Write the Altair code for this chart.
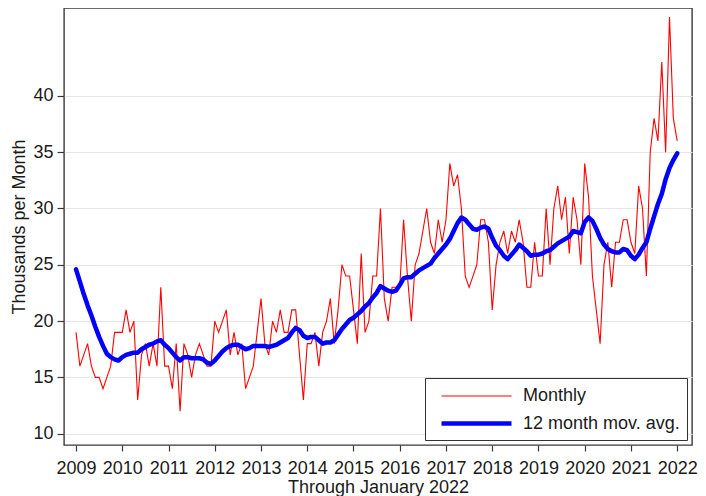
import altair as alt
import pandas as pd

# Monthly values, Jan 2009 .. Jan 2022 (thousands per month)
monthly = [
    19, 16, 17, 18, 16, 15, 15, 14, 15, 16, 19, 19,   # 2009
    19, 21, 19, 20, 13, 17, 18, 16, 18, 16, 23, 16,   # 2010
    16, 14, 18, 12, 18, 17, 15, 17, 18, 17, 16, 16,   # 2011
    20, 19, 20, 21, 17, 19, 17, 18, 14, 15, 16, 19,   # 2012
    22, 18, 17, 20, 19, 21, 19, 19, 21, 21, 17, 13,   # 2013
    18, 18, 19, 16, 19, 20, 22, 18, 21, 25, 24, 24,   # 2014
    21, 18, 26, 19, 20, 24, 24, 30, 22, 20, 23, 23,   # 2015
    23, 29, 24, 20, 25, 26, 28, 30, 27, 26, 29, 27,   # 2016
    29, 34, 32, 33, 30, 24, 23, 24, 25, 29, 29, 27,   # 2017
    21, 25, 27, 28, 26, 28, 27, 29, 27, 23, 23, 27,   # 2018
    24, 24, 30, 25, 30, 32, 29, 31, 26, 31, 29, 25,   # 2019
    34, 31, 24, 21, 18, 25, 27, 23, 27, 27, 29, 29,   # 2020
    27, 26, 32, 30, 24, 35, 38, 36, 43, 35, 47, 38,   # 2021
    36,                                               # Jan 2022
]

# 12 month moving average
moving_avg = [
    24.6, 23.5, 22.4, 21.4, 20.5, 19.5, 18.6, 17.8, 17.1, 16.8, 16.6, 16.5,   # 2009
    16.8, 17.0, 17.1, 17.2, 17.2, 17.5, 17.7, 17.9, 18.0, 18.2, 18.3, 17.9,   # 2010
    17.6, 17.2, 16.8, 16.5, 16.8, 16.8, 16.7, 16.7, 16.7, 16.6, 16.3, 16.2,   # 2011
    16.5, 16.9, 17.3, 17.6, 17.8, 17.9, 17.9, 17.7, 17.5, 17.6, 17.8, 17.8,   # 2012
    17.8, 17.8, 17.7, 17.8, 17.9, 18.1, 18.3, 18.5, 19.0, 19.4, 19.2, 18.7,   # 2013
    18.5, 18.6, 18.6, 18.3, 18.0, 18.1, 18.1, 18.3, 18.8, 19.3, 19.7, 20.1,   # 2014
    20.3, 20.6, 20.9, 21.3, 21.6, 22.1, 22.5, 23.1, 22.9, 22.7, 22.6, 22.7,   # 2015
    23.2, 23.8, 23.9, 23.9, 24.2, 24.5, 24.7, 24.9, 25.1, 25.6, 26.0, 26.4,   # 2016
    26.8, 27.3, 28.0, 28.7, 29.2, 29.0, 28.6, 28.2, 28.1, 28.3, 28.4, 28.2,   # 2017
    27.4, 26.7, 26.3, 25.8, 25.5, 25.9, 26.3, 26.8, 26.5, 26.2, 25.8, 25.9,   # 2018
    25.9, 26.0, 26.2, 26.3, 26.6, 26.9, 27.1, 27.3, 27.5, 28.0, 27.9, 27.8,   # 2019
    28.8, 29.2, 28.9, 28.2, 27.4, 26.8, 26.4, 26.2, 26.1, 26.1, 26.4, 26.3,   # 2020
    25.8, 25.5, 25.9, 26.5, 27.0, 28.2, 29.3, 30.4, 31.3, 32.6, 33.6, 34.3,   # 2021
    34.9,                                                                     # Jan 2022
]

series_names = ["Monthly", "12 month mov. avg."]
series_colors = ["#ff0000", "#0000ff"]
series_widths = [1.1, 4.5]
year_ticks = list(range(2009, 2023))
y_ticks = [10, 15, 20, 25, 30, 35, 40]
x_title = "Through January 2022"
y_title = "Thousands per Month"

start_year = 2009
rows = []
for i, v in enumerate(monthly):
    rows.append({"t": start_year + i / 12, "value": v, "series": series_names[0]})
for i, v in enumerate(moving_avg):
    rows.append({"t": start_year + i / 12, "value": v, "series": series_names[1]})
df = pd.DataFrame(rows)

FONT = "Liberation Sans"
INK = "#1a1a1a"
FRAME = "#3a3a3a"

legend_opts = dict(
    title=None, orient="bottom-right", offset=5,
    symbolType="M-3.5,0L3.5,0", symbolSize=400, symbolOffset=32,
    labelFont=FONT, labelFontSize=18, labelColor=INK, labelOffset=34,
    rowPadding=6, padding=7, strokeColor="#333333", fillColor="white",
)

x_enc = alt.X(
    "t:Q",
    scale=alt.Scale(domain=[2008.74, 2022.32], nice=False, zero=False),
    axis=alt.Axis(
        title=x_title, values=year_ticks, format="d", grid=False,
        tickSize=6, labelPadding=8, titlePadding=1,
        labelOverlap=False, labelFlush=False,
    ),
)
y_enc = alt.Y(
    "value:Q",
    scale=alt.Scale(domain=[9.0, 47.8], nice=False, zero=False),
    axis=alt.Axis(
        title=y_title, values=y_ticks, grid=True, gridColor="#e6e6e6",
        tickSize=7, labelPadding=4, titlePadding=4,
    ),
)
color_enc = alt.Color(
    "series:N",
    scale=alt.Scale(domain=series_names, range=series_colors),
    legend=alt.Legend(**legend_opts),
)
width_enc = alt.StrokeWidth(
    "series:N",
    scale=alt.Scale(domain=series_names, range=series_widths),
    legend=alt.Legend(**legend_opts),
)

base = alt.Chart(df)
red = base.transform_filter(alt.datum.series == series_names[0]).mark_line().encode(
    x=x_enc, y=y_enc, color=color_enc, strokeWidth=width_enc
)
blue = base.transform_filter(alt.datum.series == series_names[1]).mark_line(
    strokeJoin="round", strokeCap="round"
).encode(x=x_enc, y=y_enc, color=color_enc, strokeWidth=width_enc)

chart = (
    alt.layer(red, blue)
    .properties(
        width=628, height=437,
        padding={"left": 56, "top": 0, "right": 6, "bottom": 51},
        autosize=alt.AutoSizeParams(type="none"),
        background="white",
    )
    .configure_view(stroke=FRAME, strokeWidth=1.4)
    .configure_axis(
        domain=False, tickColor=FRAME, tickWidth=1.2,
        labelFont=FONT, labelFontSize=18, labelColor=INK,
        titleFont=FONT, titleFontSize=18, titleFontWeight="normal", titleColor=INK,
    )
)

chart.save("out.html", embed_options={"renderer": "svg", "actions": False})
